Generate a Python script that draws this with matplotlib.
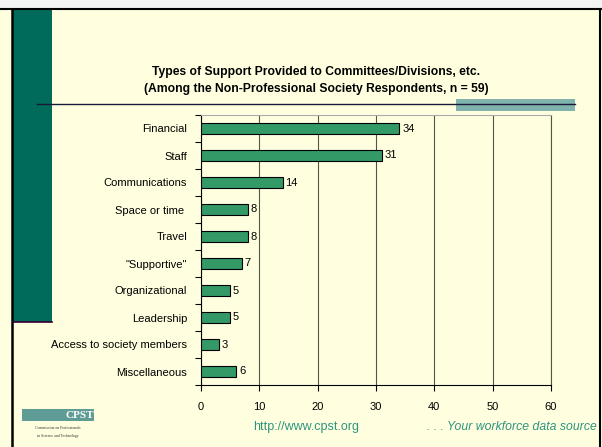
import numpy as np
import matplotlib.pyplot as plt
from matplotlib.patches import Rectangle
from matplotlib.lines import Line2D

categories = ["Financial", "Staff", "Communications", "Space or time ", "Travel",
              '"Supportive"', "Organizational", "Leadership",
              "Access to society members", "Miscellaneous"]
counts = [34, 31, 14, 8, 8, 7, 5, 5, 3, 6]
xticks = [0, 10, 20, 30, 40, 50, 60]

bg = "#FFFFE0"
bar_green = "#339966"
panel_green = "#006B5A"
teal = "#7FB3AC"
footer_col = "#2E9480"

plt.rcParams['font.family'] = ['Liberation Sans', 'DejaVu Sans']

fig = plt.figure(figsize=(6.02, 4.47), dpi=100)
fig.patch.set_facecolor(bg)
W, H = 602.0, 447.0

def fx(x):
    return x / W

def fy(y):
    return 1 - y / H

# slide decoration
fig.add_artist(Rectangle((0, fy(9)), 1, 9 / H, transform=fig.transFigure,
                         facecolor="#F4F4F4", edgecolor="none"))
fig.add_artist(Line2D([0, 1], [fy(9), fy(9)], transform=fig.transFigure, color="black", lw=1.5))
fig.add_artist(Line2D([fx(12), fx(12)], [fy(9), 0], transform=fig.transFigure, color="black", lw=1.8))
fig.add_artist(Line2D([fx(600), fx(600)], [fy(9), 0], transform=fig.transFigure, color="black", lw=1.5))
fig.add_artist(Rectangle((fx(13), fy(322)), fx(52) - fx(13), (322 - 10) / H,
                         transform=fig.transFigure, facecolor=panel_green, edgecolor="none"))
fig.add_artist(Line2D([fx(13), fx(52)], [fy(322), fy(322)], transform=fig.transFigure,
                      color="#330033", lw=1.2))
fig.add_artist(Rectangle((fx(456), fy(111)), fx(575) - fx(456), 12 / H,
                         transform=fig.transFigure, facecolor=teal, edgecolor="none"))
fig.add_artist(Line2D([fx(37), fx(575)], [fy(104), fy(104)], transform=fig.transFigure,
                      color="#1A1A3A", lw=1.0))

# title
fig.text(fx(316), fy(72), "Types of Support Provided to Committees/Divisions, etc.",
         ha="center", va="center", fontsize=8.7, fontweight="bold")
fig.text(fx(316), fy(89), "(Among the Non-Professional Society Respondents, n = 59)",
         ha="center", va="center", fontsize=8.7, fontweight="bold")

# chart
ax = fig.add_axes([fx(201), fy(385), fx(551) - fx(201), (385 - 115) / H])
ax.set_facecolor(bg)
y = np.arange(len(categories))
ax.barh(y, counts, height=0.42, color=bar_green, edgecolor="black", linewidth=0.8, zorder=3)
for yi, v in zip(y, counts):
    ax.text(v + 0.5, yi, str(v), va="center", ha="left", fontsize=8)

ax.set_xlim(0, 60)
ax.set_ylim(len(categories) - 0.5, -0.5)
ax.set_xticks(xticks)
ax.set_xticklabels([str(t) for t in xticks], fontsize=8)
ax.set_yticks(y)
ax.set_yticklabels(categories, fontsize=8)
ax.tick_params(axis="y", length=0, pad=10)
ax.set_yticks(np.arange(-0.5, len(categories)), minor=True)
ax.tick_params(axis="y", which="minor", length=4, width=0.8)
ax.tick_params(axis="x", length=4, width=0.8, pad=8)
ax.grid(axis="x", color="#555544", lw=0.8, zorder=0)
ax.spines["top"].set_color("#AAAAAA")
ax.spines["right"].set_color("#555544")
ax.spines["left"].set_linewidth(0.8)
ax.spines["bottom"].set_linewidth(0.8)

# footer
fig.text(fx(306), fy(427), "http://www.cpst.org", ha="center", va="center",
         fontsize=9, color=footer_col)
fig.text(fx(597), fy(427), ". . . Your workforce data source", ha="right", va="center",
         fontsize=8.8, color=footer_col, style="italic")

# logo
fig.add_artist(Rectangle((fx(22), fy(421)), fx(94) - fx(22), 12 / H, transform=fig.transFigure,
                         facecolor="#5E9C95", edgecolor="none"))
fig.text(fx(94), fy(415), "CPST", ha="right", va="center", fontsize=8,
         fontweight="bold", color="white", family="Liberation Serif")
fig.text(fx(58), fy(428), "Commission on Professionals", ha="center", va="center",
         fontsize=2.8, color="#333333", family="Liberation Serif")
fig.text(fx(58), fy(436), "in Science and Technology", ha="center", va="center",
         fontsize=2.8, color="#333333", family="Liberation Serif")

fig.savefig("out.png", dpi=100, facecolor=bg)
